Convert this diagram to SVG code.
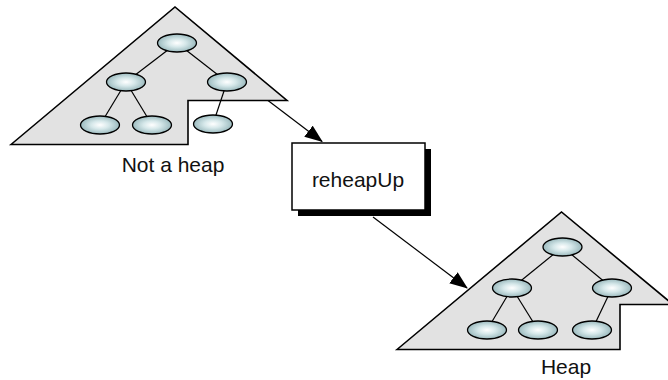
<svg xmlns="http://www.w3.org/2000/svg" width="668" height="380" viewBox="0 0 668 380">
<defs>
<radialGradient id="ng" cx="0.5" cy="0.5" r="0.5">
<stop offset="0" stop-color="#ffffff"/>
<stop offset="0.45" stop-color="#d6e8ea"/>
<stop offset="1" stop-color="#9bbabe"/>
</radialGradient>
<marker id="ah" markerWidth="18" markerHeight="14" refX="17" refY="7" orient="auto" markerUnits="userSpaceOnUse">
<path d="M0,0 L18,7 L0,14 Z" fill="#000"/>
</marker>
<style>
.shape{fill:#e2e2e2;stroke:#000;stroke-width:1.6;stroke-linejoin:miter}
.node{fill:url(#ng);stroke:#000;stroke-width:1.3}
.edge{stroke:#000;stroke-width:1.2;fill:none}
.conn{stroke:#000;stroke-width:1.2;fill:none;marker-end:url(#ah)}
.lbl{font-family:"Liberation Sans",Arial,sans-serif;font-size:21px;fill:#111;text-anchor:middle}
</style>
</defs>
<g id="notaheap">
<polygon class="shape" points="11,144.5 175,7 287,100.5 188,100.5 188,144.5"/>
<line class="edge" x1="177" y1="43" x2="126" y2="82"/>
<line class="edge" x1="177" y1="43" x2="227" y2="82"/>
<line class="edge" x1="126" y1="82" x2="100" y2="125"/>
<line class="edge" x1="126" y1="82" x2="152" y2="125"/>
<line class="edge" x1="227" y1="82" x2="213" y2="124"/>
<ellipse class="node" cx="177" cy="43" rx="19.5" ry="9"/>
<ellipse class="node" cx="126" cy="82" rx="19.5" ry="9"/>
<ellipse class="node" cx="227" cy="82" rx="19.5" ry="9"/>
<ellipse class="node" cx="100" cy="125" rx="19.5" ry="9"/>
<ellipse class="node" cx="152" cy="125" rx="19.5" ry="9"/>
<ellipse class="node" cx="213" cy="124" rx="19.5" ry="9"/>
<text class="lbl" x="173" y="172">Not a heap</text>
</g>
<g id="reheapUp">
<rect x="298" y="149" width="133" height="67" fill="#000"/>
<rect x="292" y="143" width="133" height="67" fill="#fff" stroke="#000" stroke-width="1.5"/>
<text class="lbl" x="358" y="187">reheapUp</text>
</g>
<g id="heap">
<polygon class="shape" points="397,349.5 561.5,212 673,304.5 620,304.5 620,349.5"/>
<line class="edge" x1="562.5" y1="247" x2="512" y2="288"/>
<line class="edge" x1="562.5" y1="247" x2="612" y2="288"/>
<line class="edge" x1="512" y1="288" x2="487" y2="330"/>
<line class="edge" x1="512" y1="288" x2="538" y2="330"/>
<line class="edge" x1="612" y1="288" x2="592" y2="330"/>
<ellipse class="node" cx="562.5" cy="247" rx="19.5" ry="9"/>
<ellipse class="node" cx="512" cy="288" rx="19.5" ry="9"/>
<ellipse class="node" cx="612" cy="288" rx="19.5" ry="9"/>
<ellipse class="node" cx="487" cy="330" rx="19.5" ry="9"/>
<ellipse class="node" cx="538" cy="330" rx="19.5" ry="9"/>
<ellipse class="node" cx="592" cy="330" rx="19.5" ry="9"/>
<text class="lbl" x="566" y="374">Heap</text>
</g>
<g id="connectors">
<line class="conn" x1="268" y1="100.5" x2="322" y2="141.5"/>
<line class="conn" x1="373" y1="217" x2="467" y2="288"/>
</g>
</svg>
